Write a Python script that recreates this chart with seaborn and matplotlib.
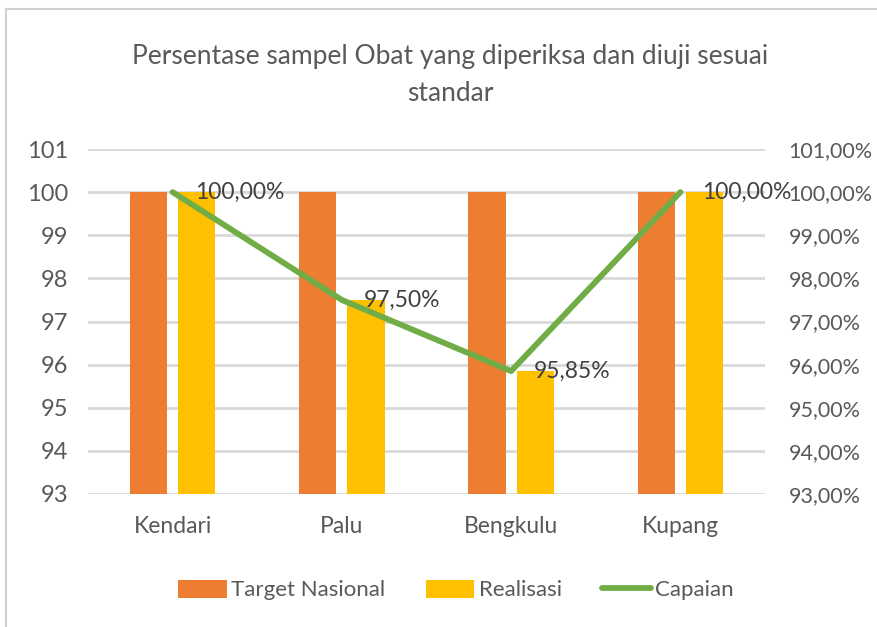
import matplotlib
matplotlib.use("Agg")
import matplotlib.pyplot as plt
from matplotlib import font_manager
from matplotlib.patches import Rectangle
from matplotlib.lines import Line2D
from matplotlib.patches import Patch
import matplotlib.ticker as mticker
import numpy as np
import pandas as pd
import seaborn as sns

# --- data -------------------------------------------------------------
categories = ["Kendari", "Palu", "Bengkulu", "Kupang"]
target_nasional = [100, 100, 100, 100]
realisasi = [100, 97.5, 95.85, 100]
capaian_pct = [100.00, 97.50, 95.85, 100.00]
series_names = ["Target Nasional", "Realisasi", "Capaian"]
title_text = "Persentase sampel Obat yang diperiksa dan diuji sesuai\nstandar"

ORANGE = "#ED7D31"
GOLD = "#FFC000"
GREEN = "#70AD47"
GRID = "#D9D9D9"
TEXT = "#595959"

sns.set_theme(style="white")
available = {f.name for f in font_manager.fontManager.ttflist}
family = "Liberation Sans Narrow" if "Liberation Sans Narrow" in available else "Lato"
plt.rcParams["font.family"] = [family, "DejaVu Sans"]

fig = plt.figure(figsize=(8.78, 6.27), dpi=100)
ax = fig.add_axes([88 / 878, 1 - 494 / 627, (765 - 88) / 878, (494 - 149) / 627])

bars = pd.DataFrame({
    "kota": categories * 2,
    "seri": [series_names[0]] * 4 + [series_names[1]] * 4,
    "nilai": target_nasional + realisasi,
})
sns.barplot(data=bars, x="kota", y="nilai", hue="seri", order=categories,
            hue_order=series_names[:2], palette=[ORANGE, GOLD],
            width=0.568, gap=0.225, dodge=True, ax=ax, legend=False,
            saturation=1, linewidth=0, errorbar=None)

ax.set_ylim(93, 101)
ax.set_xlim(-0.5, 3.5)
ax.set_yticks(range(93, 102))
ax.grid(axis="y", color=GRID, linewidth=2)
ax.set_axisbelow(True)
for s in ax.spines.values():
    s.set_visible(False)
ax.set_xlabel("")
ax.set_ylabel("")
ax.tick_params(axis="y", length=0, pad=14, labelsize=17, labelcolor=TEXT)
ax.tick_params(axis="x", length=0, pad=16, labelsize=16.5, labelcolor=TEXT)

# secondary axis: achievement line
ax2 = ax.twinx()
line_df = pd.DataFrame({"pos": np.arange(len(categories)), "capaian": capaian_pct})
sns.lineplot(data=line_df, x="pos", y="capaian", color=GREEN, linewidth=4.2,
             ax=ax2, legend=False)
ax2.set_ylim(93, 101)
ax2.set_yticks(range(93, 102))
ax2.yaxis.set_major_formatter(
    mticker.FuncFormatter(lambda v, p: f"{v:.2f}%".replace(".", ",")))
ax2.tick_params(axis="y", length=0, pad=17, labelsize=15.5, labelcolor=TEXT)
ax2.set_ylabel("")
ax2.set_xlabel("")
for s in ax2.spines.values():
    s.set_visible(False)
ax2.grid(False)

for x, v in zip(line_df["pos"], capaian_pct):
    ax2.annotate(f"{v:.2f}%".replace(".", ","), xy=(x, v), xytext=(16, 0),
                 textcoords="offset points", ha="left", va="center",
                 fontsize=16.5, color="#404040")

fig.text(450 / 878, 1 - 75 / 627, title_text, ha="center", va="center",
         fontsize=19, color=TEXT, linespacing=1.6)

handles = [Patch(facecolor=ORANGE, edgecolor="none"),
           Patch(facecolor=GOLD, edgecolor="none"),
           Line2D([0], [0], color=GREEN, linewidth=4.2)]
fig.legend(handles, series_names, loc="center", bbox_to_anchor=(456 / 878, 1 - 590 / 627),
           ncol=3, frameon=False, fontsize=16, labelcolor=TEXT,
           handlelength=2.2, handleheight=0.9, handletextpad=0.2, columnspacing=1.8)

# outer chart border
fig.add_artist(Rectangle((6 / 878, -0.1), 1.2, 1 - 9 / 627 + 0.1,
                         transform=fig.transFigure, fill=False,
                         edgecolor="#D0D0D0", linewidth=1.5))

fig.savefig("out.png", dpi=100, facecolor="white")
